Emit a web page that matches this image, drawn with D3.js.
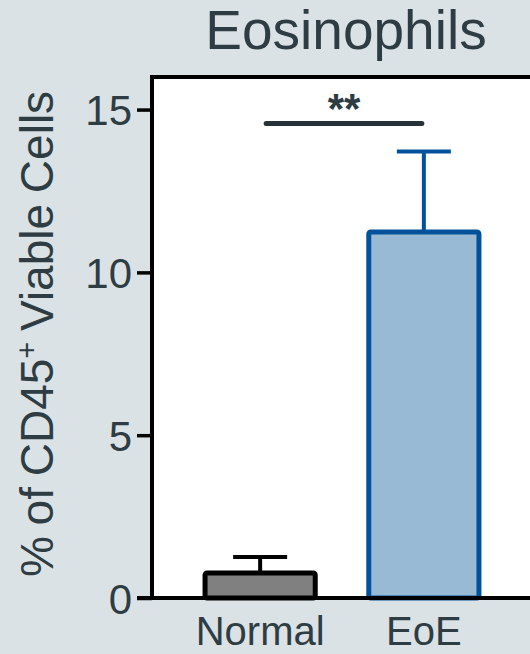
<!DOCTYPE html>
<html>
<head>
<meta charset="utf-8">
<script src="https://cdn.jsdelivr.net/npm/d3@7"></script>
<style>
  html, body { margin: 0; padding: 0; background: #dbe2e5; }
  text { font-family: "Liberation Sans", Arial, sans-serif; fill: #2e3c43; }
</style>
</head>
<body>
<div id="chart"></div>
<script>
/* global d3 */

// Data
var categories = [ "Normal", "EoE" ];
var means = [ 0.77, 11.24 ];
var errors = [ 0.49, 2.47 ];
var yTicks = [ 0, 5, 10, 15 ];
var sigLabel = "**";
var sigLevel = 14.57;

var width = 530,
  height = 654,
  margin = { top: 77, right: -2, bottom: 56, left: 152 };

var fills = { Normal: "#808080", EoE: "#99bad4" };
var strokes = { Normal: "#000000", EoE: "#00539a" };

var svg = d3.select( "#chart" ).append( "svg" )
  .attr( "width", width )
  .attr( "height", height );

var innerWidth = width - margin.left - margin.right,
  innerHeight = height - margin.top - margin.bottom;

var xScale = d3.scaleBand()
  .domain( categories )
  .range( [ margin.left, margin.left + innerWidth ] )
  .paddingInner( 0.327 )
  .paddingOuter( 0.324 );

var yScale = d3.scaleLinear()
  .domain( [ 0, 16 ] )
  .range( [ margin.top + innerHeight, margin.top ] );

// Plot frame
svg.append( "rect" )
  .attr( "x", margin.left )
  .attr( "y", margin.top )
  .attr( "width", innerWidth + 10 )
  .attr( "height", innerHeight )
  .attr( "fill", "#ffffff" )
  .attr( "stroke", "#000000" )
  .attr( "stroke-width", 4 );

// Title
svg.append( "text" )
  .attr( "x", 346 )
  .attr( "y", 49 )
  .attr( "text-anchor", "middle" )
  .style( "font-size", "55px" )
  .text( "Eosinophils" );

// Y axis
var yAxis = svg.append( "g" )
  .attr( "transform", "translate(" + margin.left + ",0)" )
  .call( d3.axisLeft( yScale ).tickValues( yTicks ).tickSize( 15 ).tickPadding( 5 ).tickSizeOuter( 0 ) );

yAxis.select( ".domain" ).remove();
yAxis.selectAll( ".tick line" )
  .attr( "stroke", "#000000" )
  .attr( "stroke-width", 3.5 );
yAxis.selectAll( ".tick text" )
  .attr( "fill", "#2e3c43" )
  .attr( "dy", "0.36em" )
  .style( "font-size", "42px" );

// Y label with superscript
var yLabel = svg.append( "text" )
  .attr( "transform", "translate(53,334) rotate(-90)" )
  .attr( "text-anchor", "middle" )
  .style( "font-size", "46px" )
  .style( "word-spacing", "-2px" );
yLabel.append( "tspan" ).text( "% of CD45" );
yLabel.append( "tspan" )
  .attr( "baseline-shift", "super" )
  .style( "font-size", "29px" )
  .text( "+" );
yLabel.append( "tspan" ).text( " Viable Cells" );

// X labels
svg.selectAll( ".xlabel" )
  .data( categories )
  .enter()
  .append( "text" )
    .attr( "class", "xlabel" )
    .attr( "x", d => xScale( d ) + xScale.bandwidth() / 2 )
    .attr( "y", 645 )
    .attr( "text-anchor", "middle" )
    .style( "font-size", "40px" )
    .text( d => d );

// Error bars (drawn under the bars)
var errG = svg.selectAll( ".err" )
  .data( categories )
  .enter()
  .append( "g" )
    .attr( "class", "err" )
    .attr( "stroke", d => strokes[ d ] )
    .attr( "stroke-width", 4 );

errG.append( "line" )
  .attr( "x1", d => xScale( d ) + xScale.bandwidth() / 2 )
  .attr( "x2", d => xScale( d ) + xScale.bandwidth() / 2 )
  .attr( "y1", ( d, i ) => yScale( means[ i ] ) )
  .attr( "y2", ( d, i ) => yScale( means[ i ] + errors[ i ] ) );

errG.append( "line" )
  .attr( "x1", d => xScale( d ) + xScale.bandwidth() / 2 - 27 )
  .attr( "x2", d => xScale( d ) + xScale.bandwidth() / 2 + 27 )
  .attr( "y1", ( d, i ) => yScale( means[ i ] + errors[ i ] ) )
  .attr( "y2", ( d, i ) => yScale( means[ i ] + errors[ i ] ) );

// Bars
svg.selectAll( ".bar" )
  .data( categories )
  .enter()
  .append( "rect" )
    .attr( "class", "bar" )
    .attr( "x", d => xScale( d ) )
    .attr( "width", xScale.bandwidth() )
    .attr( "y", ( d, i ) => yScale( means[ i ] ) )
    .attr( "height", ( d, i ) => yScale( 0 ) - yScale( means[ i ] ) )
    .attr( "rx", 2 )
    .attr( "fill", d => fills[ d ] )
    .attr( "stroke", d => strokes[ d ] )
    .attr( "stroke-width", 5 );

// Axis lines over the bars
svg.append( "line" )
  .attr( "x1", margin.left - 15 )
  .attr( "x2", width )
  .attr( "y1", yScale( 0 ) )
  .attr( "y2", yScale( 0 ) )
  .attr( "stroke", "#000000" )
  .attr( "stroke-width", 4 );

svg.append( "line" )
  .attr( "x1", margin.left )
  .attr( "x2", margin.left )
  .attr( "y1", margin.top )
  .attr( "y2", yScale( 0 ) )
  .attr( "stroke", "#000000" )
  .attr( "stroke-width", 4 );

// Significance bracket
var sigX1 = xScale( categories[ 0 ] ) + xScale.bandwidth() / 2 + 6,
  sigX2 = xScale( categories[ 1 ] ) + xScale.bandwidth() / 2 - 2;

svg.append( "line" )
  .attr( "x1", sigX1 )
  .attr( "x2", sigX2 )
  .attr( "y1", yScale( sigLevel ) )
  .attr( "y2", yScale( sigLevel ) )
  .attr( "stroke", "#263238" )
  .attr( "stroke-width", 5 )
  .attr( "stroke-linecap", "round" );

svg.append( "text" )
  .attr( "x", ( sigX1 + sigX2 ) / 2 )
  .attr( "y", yScale( sigLevel ) - 1 )
  .attr( "text-anchor", "middle" )
  .style( "font-size", "42px" )
  .style( "font-weight", "bold" )
  .text( sigLabel );
</script>
</body>
</html>
